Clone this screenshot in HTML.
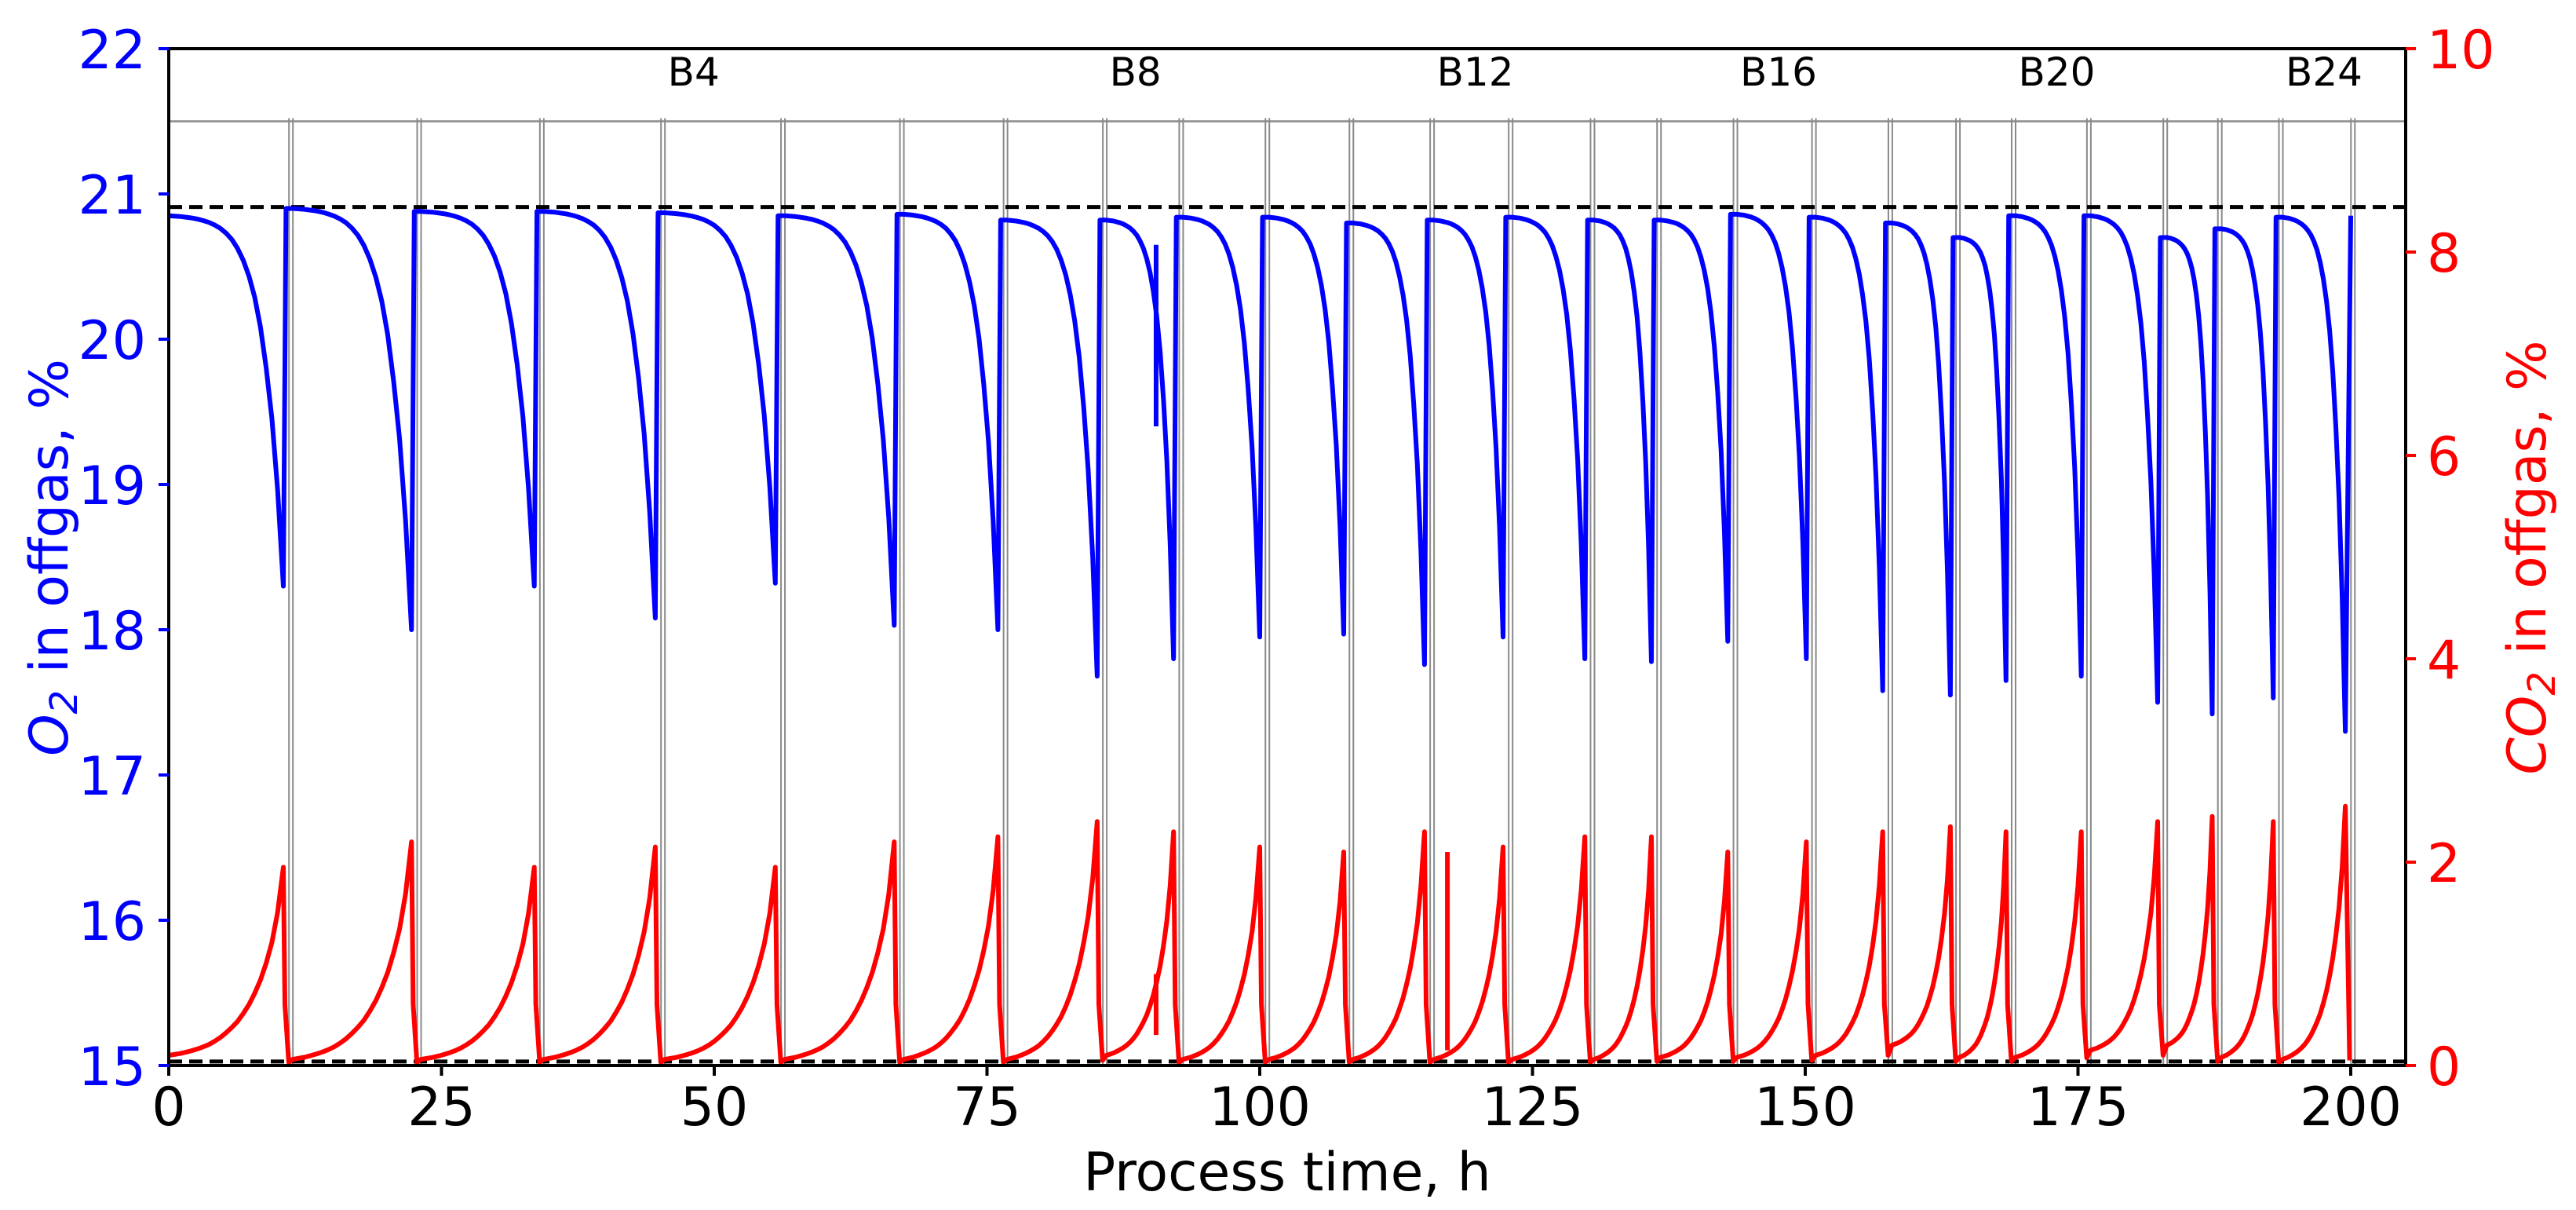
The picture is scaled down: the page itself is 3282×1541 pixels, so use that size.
<!DOCTYPE html>
<html><head><meta charset="utf-8"><style>
html,body{margin:0;padding:0;background:#fff}
svg{display:block;font-family:"DejaVu Sans","Liberation Sans",sans-serif}
</style></head><body>
<svg id="chart" width="3282" height="1541" viewBox="0 0 3282 1541" xmlns="http://www.w3.org/2000/svg">
<rect x="0" y="0" width="3282" height="1541" fill="#fff"/>
<g id="grid"></g>
<g id="series"></g>
<g id="axes"></g>
</svg>
<script>
// ---- data ----
const batchBoundaries = [0,11.2,22.95,34.2,45.3,56.3,67.2,76.7,85.8,92.8,100.7,108.4,115.8,123.0,130.5,136.6,143.6,150.8,157.8,164.0,169.1,176.0,183.0,188.0,193.6,200.2];
const o2Plateau = [20.85,20.9,20.88,20.88,20.87,20.85,20.86,20.82,20.82,20.84,20.84,20.8,20.82,20.84,20.82,20.82,20.86,20.84,20.8,20.7,20.85,20.85,20.7,20.76,20.84];
const o2Min = [18.3,18.0,18.3,18.08,18.32,18.03,18.0,17.68,17.8,17.95,17.97,17.76,17.95,17.8,17.78,17.92,17.8,17.58,17.55,17.65,17.68,17.5,17.42,17.53,17.3];
const co2Base = [0.1,0.06,0.06,0.06,0.06,0.06,0.06,0.06,0.1,0.06,0.06,0.06,0.06,0.06,0.06,0.08,0.08,0.1,0.2,0.08,0.08,0.15,0.2,0.08,0.06];
const co2Peak = [1.95,2.2,1.95,2.15,1.95,2.2,2.25,2.4,2.3,2.15,2.1,2.3,2.15,2.25,2.25,2.1,2.2,2.3,2.35,2.3,2.3,2.4,2.45,2.4,2.55];
const shapeFrac = [0,0.05,0.1,0.15,0.2,0.25,0.3,0.35,0.4,0.45,0.5,0.55,0.6,0.65,0.7,0.75,0.8,0.85,0.9,0.95,1];
const o2Shape = [0,0.001,0.002,0.004,0.006,0.009,0.013,0.018,0.025,0.034,0.047,0.064,0.088,0.12,0.163,0.22,0.3,0.41,0.547,0.74,1];
const co2Shape = [0,0.005,0.01,0.017,0.025,0.034,0.045,0.058,0.075,0.095,0.12,0.148,0.18,0.222,0.27,0.33,0.4,0.49,0.6,0.76,1];
const batchLabels = ["B4","B8","B12","B16","B20","B24"];
const batchLabelIdx = [4,8,12,16,20,24];
const xTicks = [0,25,50,75,100,125,150,175,200];
const yLeftTicks = [15,16,17,18,19,20,21,22];
const yRightTicks = [0,2,4,6,8,10];
const o2Ref = 20.91, co2Ref = 0.04;

// ---- scales ----
const X0=215, X1=3065, Y0=62, Y1=1357;
const xs = t => X0 + t*13.9;
const yL = v => Y0 + (22-v)*(Y1-Y0)/7;
const yR = v => Y1 - v*(Y1-Y0)/10;
const NS="http://www.w3.org/2000/svg";
function mk(tag, attrs, parent){const e=document.createElementNS(NS,tag);for(const k in attrs)e.setAttribute(k,attrs[k]);parent.appendChild(e);return e;}

const grid=document.getElementById('grid'), series=document.getElementById('series'), axes=document.getElementById('axes');

const hl=mk('line',{x1:X0,x2:X1,y1:yL(21.5),y2:yL(21.5),stroke:'#8a8a8a','stroke-width':2.5},grid);


for(let i=1;i<batchBoundaries.length;i++){
  const x=xs(batchBoundaries[i]);
  for(const d of [-2.5,2.5]){
    const l=mk('line',{x1:x+d,x2:x+d,y1:yL(21.5)-4,y2:Y1,stroke:'#8a8a8a','stroke-width':2},grid);
    
    
  }
}
batchLabels.forEach((lab,j)=>{
  const t=mk('text',{x:xs(batchBoundaries[batchLabelIdx[j]])+6,y:109,'font-size':50,fill:'#000'},grid);
  t.textContent=lab;
  
  
});

const dl1=mk('line',{x1:X0,x2:X1,y1:yL(o2Ref),y2:yL(o2Ref),stroke:'#000','stroke-width':5,'stroke-dasharray':'17,9'},series);


const dl2=mk('line',{x1:X0,x2:X1,y1:yR(co2Ref),y2:yR(co2Ref),stroke:'#000','stroke-width':5,'stroke-dasharray':'17,9'},series);



let o2d='', co2d='';
const nb=o2Min.length;
for(let i=0;i<nb;i++){
  const t0=batchBoundaries[i], t1=batchBoundaries[i+1];
  const ts = i===0 ? t0 : t0+0.15;
  const te = t1-0.7;
  for(let k=0;k<shapeFrac.length;k++){
    const t=ts+(te-ts)*shapeFrac[k];
    const vo=o2Plateau[i]-(o2Plateau[i]-o2Min[i])*o2Shape[k];
    const vc=co2Base[i]+(co2Peak[i]-co2Base[i])*co2Shape[k];
    o2d+=(o2d?'L':'M')+xs(t).toFixed(1)+','+yL(vo).toFixed(1);
    co2d+=(co2d?'L':'M')+xs(t).toFixed(1)+','+yR(vc).toFixed(1);
  }
  if(i<nb-1){
    o2d+='L'+xs(t1-0.45).toFixed(1)+','+yL(o2Plateau[i+1]).toFixed(1);
    co2d+='L'+xs(t1-0.55).toFixed(1)+','+yR(0.6).toFixed(1);
    co2d+='L'+xs(t1-0.2).toFixed(1)+','+yR(co2Base[i+1]*0.5).toFixed(1);
  } else {
    o2d+='L'+xs(t1-0.2).toFixed(1)+','+yL(20.85).toFixed(1);
    co2d+='L'+xs(t1-0.3).toFixed(1)+','+yR(0.05).toFixed(1);
  }
}
const o2p=mk('path',{d:o2d,fill:'none',stroke:'#0000ff','stroke-width':6,'stroke-linejoin':'round'},series);


const co2p=mk('path',{d:co2d,fill:'none',stroke:'#ff0000','stroke-width':6,'stroke-linejoin':'round'},series);


const sp1=mk('line',{x1:xs(90.5),x2:xs(90.5),y1:yL(20.65),y2:yL(19.4),stroke:'#0000ff','stroke-width':6},series);


const sp2=mk('line',{x1:xs(90.5),x2:xs(90.5),y1:yR(0.3),y2:yR(0.9),stroke:'#ff0000','stroke-width':6},series);


const sp3=mk('line',{x1:xs(117.2),x2:xs(117.2),y1:yR(0.15),y2:yR(2.1),stroke:'#ff0000','stroke-width':6},series);



const fr=mk('rect',{x:X0,y:Y0,width:X1-X0,height:Y1-Y0,fill:'none',stroke:'#000','stroke-width':4},axes);


xTicks.forEach(v=>{
  const x=xs(v);
  const tk=mk('line',{x1:x,x2:x,y1:Y1,y2:Y1+13,stroke:'#000','stroke-width':4},axes);
  
  
  const t=mk('text',{x:x,y:1433,'font-size':68,'text-anchor':'middle',fill:'#000'},axes);
  t.textContent=v;
  
  
});
yLeftTicks.forEach(v=>{
  const y=yL(v);
  const tk=mk('line',{x1:X0-13,x2:X0,y1:y,y2:y,stroke:'#0000ff','stroke-width':4},axes);
  
  
  const t=mk('text',{x:186,y:y+25,'font-size':68,'text-anchor':'end',fill:'#0000ff'},axes);
  t.textContent=v;
  
  
});
yRightTicks.forEach(v=>{
  const y=yR(v);
  const tk=mk('line',{x1:X1,x2:X1+13,y1:y,y2:y,stroke:'#ff0000','stroke-width':4},axes);
  
  
  const t=mk('text',{x:3092,y:y+25,'font-size':68,'text-anchor':'start',fill:'#ff0000'},axes);
  t.textContent=v;
  
  
});
</script>
<script>
(function(){
const svg=document.getElementById('chart');
function lab(txt1,txt2,cx,cy,rot,color){
  const t=document.createElementNS("http://www.w3.org/2000/svg",'text');
  t.setAttribute('x',cx);t.setAttribute('y',cy);
  t.setAttribute('font-size','68');t.setAttribute('fill',color);t.setAttribute('text-anchor','middle');
  t.setAttribute('transform','rotate('+rot+' '+cx+' '+cy+')');
  t.innerHTML='<tspan font-style="italic">'+txt1+'</tspan><tspan font-size="48" dy="12" font-style="italic">2</tspan><tspan dy="-12">'+txt2+'</tspan>';
  svg.appendChild(t);
  return t;
}
const l1=lab('O',' in offgas, %',86,710,-90,'#0000ff');


const l2=lab('CO',' in offgas, %',3243,710,-90,'#ff0000');


const xl=document.createElementNS("http://www.w3.org/2000/svg",'text');
xl.setAttribute('x','1640');xl.setAttribute('y','1516');xl.setAttribute('font-size','68');xl.setAttribute('text-anchor','middle');
xl.textContent='Process time, h';


svg.appendChild(xl);
})();
</script>
</body></html>
